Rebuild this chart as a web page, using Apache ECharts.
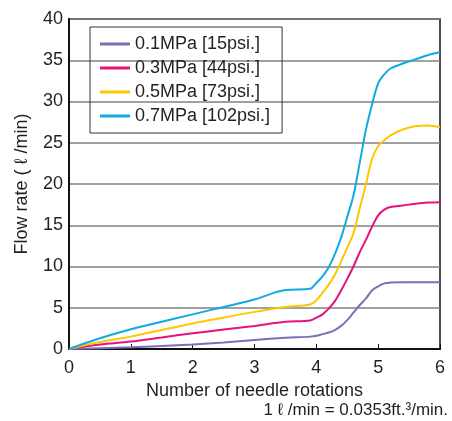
<!DOCTYPE html>
<html>
<head>
<meta charset="utf-8">
<script src="https://cdn.jsdelivr.net/npm/echarts@6/dist/echarts.min.js"></script>
<style>
  html, body { margin: 0; padding: 0; background: #fff; }
  #chart { width: 452px; height: 421px; }
</style>
</head>
<body>
<div id="chart"></div>
<script>
// needle rotations (x) shared by all series
var rotations = [0, 0.5, 1, 1.5, 2, 2.5, 3, 3.5, 3.9, 4, 4.1, 4.2, 4.3, 4.4, 4.5, 4.6, 4.7, 4.8, 4.9, 5, 5.1, 5.2, 5.4, 5.6, 5.8, 6];
// flow rate (l/min)
var flow01 = [0, 0.1, 0.2, 0.35, 0.55, 0.8, 1.1, 1.35, 1.5, 1.6, 1.8, 2.0, 2.3, 2.8, 3.5, 4.4, 5.3, 6.1, 7.1, 7.6, 7.95, 8.05, 8.1, 8.1, 8.1, 8.1];
var flow03 = [0, 0.55, 0.9, 1.4, 1.9, 2.35, 2.8, 3.3, 3.45, 3.8, 4.2, 4.9, 5.8, 7.1, 8.5, 10, 11.7, 13.2, 14.8, 16.2, 16.9, 17.2, 17.4, 17.6, 17.75, 17.8];
var flow05 = [0, 0.85, 1.5, 2.3, 3.1, 3.8, 4.5, 5.1, 5.4, 5.9, 6.8, 7.8, 9.0, 10.6, 12.3, 14.0, 17.0, 19.9, 23.0, 24.6, 25.3, 25.9, 26.6, 27.0, 27.1, 26.9];
var flow07 = [0, 1.3, 2.4, 3.3, 4.2, 5.1, 6.0, 7.15, 7.3, 8.0, 8.8, 9.9, 11.5, 13.5, 16.0, 18.6, 22.5, 26.5, 29.6, 32.2, 33.3, 34.0, 34.6, 35.1, 35.6, 36.0];
var seriesNames = ['0.1MPa [15psi.]', '0.3MPa [44psi.]', '0.5MPa [73psi.]', '0.7MPa [102psi.]'];
var seriesColors = ['#7a70b6', '#e6127f', '#fcc900', '#12a9e4'];
var yTicks = [0, 5, 10, 15, 20, 25, 30, 35, 40];

var allFlows = [flow01, flow03, flow05, flow07];
var font = 'Liberation Sans, Arial, sans-serif';
var textColor = '#231f20';

function pairs(ys) {
  return rotations.map(function (x, i) { return [x, ys[i]]; });
}

var myChart = echarts.init(document.getElementById('chart'));
var option = {
  animation: false,
  backgroundColor: '#fff',
  grid: {
    left: 69, right: 12, top: 19, bottom: 72,
    show: true, borderColor: '#111', borderWidth: 1.5
  },
  legend: {
    left: 90, top: 27, orient: 'vertical',
    itemWidth: 30, itemHeight: 3, itemGap: 6,
    borderColor: '#333', borderWidth: 1,
    padding: [8, 12, 8, 10],
    icon: 'rect',
    textStyle: { fontFamily: font, fontSize: 18, color: textColor },
    data: seriesNames
  },
  xAxis: {
    type: 'value', min: 0, max: 6, interval: 1,
    name: 'Number of needle rotations', nameLocation: 'middle', nameGap: 25,
    nameTextStyle: { fontFamily: font, fontSize: 18, color: textColor },
    axisLine: { lineStyle: { color: '#111', width: 2 } },
    axisTick: { inside: true, length: 5, lineStyle: { color: '#111', width: 1 } },
    axisLabel: { fontFamily: font, fontSize: 18, color: textColor, margin: 10 },
    splitLine: { show: false }
  },
  yAxis: {
    type: 'value', min: yTicks[0], max: yTicks[yTicks.length - 1], interval: 5,
    name: 'Flow rate ( \u2113 /min)', nameLocation: 'middle', nameGap: 38,
    nameTextStyle: { fontFamily: font, fontSize: 18, color: textColor },
    axisLine: { show: true, lineStyle: { color: '#111', width: 2 } },
    axisTick: { show: false },
    axisLabel: { fontFamily: font, fontSize: 18, color: textColor, margin: 6 },
    splitLine: { lineStyle: { color: '#808080', width: 1.5 } }
  },
  graphic: [{
    type: 'text', right: 4, top: 402,
    style: { text: '1 \u2113 /min = 0.0353ft.\u00b3/min.', font: '17px ' + font, fill: textColor }
  }],
  series: allFlows.map(function (ys, i) {
    return {
      name: seriesNames[i], type: 'line', smooth: 0.35, showSymbol: false,
      data: pairs(ys),
      lineStyle: { color: seriesColors[i], width: 2 },
      itemStyle: { color: seriesColors[i] }
    };
  })
};
myChart.setOption(option);
</script>
</body>
</html>
